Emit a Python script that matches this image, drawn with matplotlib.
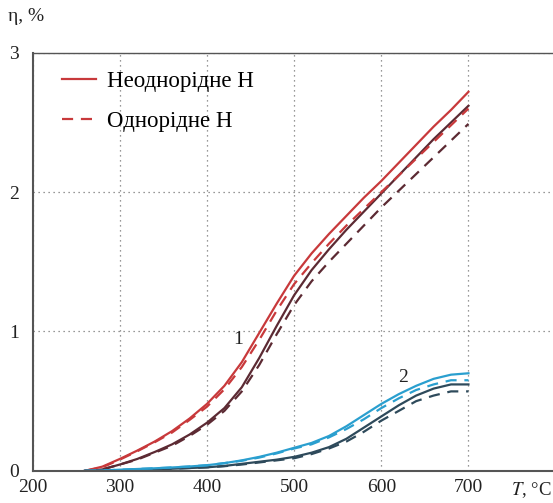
import matplotlib
matplotlib.use("Agg")
import matplotlib.pyplot as plt

plt.rcParams['font.family'] = ['Liberation Serif', 'DejaVu Serif']

# temperatures, deg C
T = [260, 280, 300, 320, 340, 360, 380, 400, 420, 440, 460, 480,
     500, 520, 540, 560, 580, 600, 620, 640, 660, 680, 700]

# group 1 (red)
red_solid = [0.0, 0.03, 0.085, 0.145, 0.21, 0.285, 0.375, 0.48, 0.61, 0.78, 0.99, 1.20,
             1.40, 1.56, 1.70, 1.83, 1.96, 2.08, 2.21, 2.34, 2.47, 2.59, 2.72]
red_dash = [0.0, 0.025, 0.08, 0.14, 0.205, 0.275, 0.365, 0.46, 0.585, 0.745, 0.94, 1.15,
            1.34, 1.49, 1.63, 1.76, 1.88, 2.00, 2.12, 2.24, 2.36, 2.48, 2.60]
maroon_solid = [0.0, 0.01, 0.045, 0.085, 0.135, 0.19, 0.26, 0.345, 0.45, 0.60, 0.81, 1.04,
                1.26, 1.44, 1.59, 1.73, 1.86, 1.99, 2.12, 2.25, 2.38, 2.50, 2.62]
maroon_dash = [0.0, 0.01, 0.045, 0.08, 0.13, 0.18, 0.25, 0.33, 0.43, 0.57, 0.76, 0.98,
               1.19, 1.36, 1.50, 1.63, 1.76, 1.89, 2.01, 2.13, 2.25, 2.37, 2.49]

# group 2 (blue)
cyan_solid = [0.0, 0.002, 0.008, 0.013, 0.018, 0.024, 0.031, 0.04, 0.055, 0.075, 0.10, 0.13,
              0.165, 0.20, 0.25, 0.32, 0.40, 0.48, 0.55, 0.61, 0.66, 0.69, 0.70]
cyan_dash = [0.0, 0.002, 0.008, 0.013, 0.018, 0.024, 0.031, 0.04, 0.055, 0.072, 0.095, 0.125,
             0.16, 0.19, 0.24, 0.30, 0.37, 0.45, 0.52, 0.58, 0.62, 0.65, 0.65]
slate_solid = [0.0, 0.0, 0.003, 0.006, 0.01, 0.015, 0.02, 0.025, 0.035, 0.05, 0.065, 0.08,
               0.10, 0.13, 0.17, 0.23, 0.31, 0.39, 0.47, 0.54, 0.59, 0.62, 0.62]
slate_dash = [0.0, 0.0, 0.003, 0.006, 0.01, 0.015, 0.02, 0.025, 0.033, 0.045, 0.06, 0.075,
              0.09, 0.12, 0.16, 0.21, 0.28, 0.36, 0.43, 0.50, 0.54, 0.57, 0.57]

x_ticks = [200, 300, 400, 500, 600, 700]
y_ticks = [0, 1, 2, 3]

RED = '#c8393b'
MAROON = '#5c2a33'
CYAN = '#2a9fcf'
SLATE = '#2e4a5b'
TXT = '#222222'

fig = plt.figure(figsize=(5.53, 5.03), dpi=100)
ax = fig.add_axes([0.059, 0.064, 0.941, 0.831])

lw = 1.6
dash = (0, (5, 3.5))
ax.plot(T, maroon_solid, color=MAROON, lw=lw)
ax.plot(T, maroon_dash, color=MAROON, lw=lw, linestyle=dash)
ax.plot(T, red_solid, color=RED, lw=lw, label='Неоднорідне Н')
ax.plot(T, red_dash, color=RED, lw=lw, linestyle=dash, label='Однорідне Н')
ax.plot(T, slate_solid, color=SLATE, lw=lw)
ax.plot(T, slate_dash, color=SLATE, lw=lw, linestyle=dash)
ax.plot(T, cyan_solid, color=CYAN, lw=lw)
ax.plot(T, cyan_dash, color=CYAN, lw=lw, linestyle=dash)

ax.set_xlim(200, 797)
ax.set_ylim(0, 3)
ax.set_xticks(x_ticks)
ax.set_yticks(y_ticks)
ax.tick_params(length=0, labelsize=14, colors=TXT)
ax.tick_params(axis='x', pad=6)
ax.tick_params(axis='y', pad=10)

ax.grid(True, linestyle=(0, (1, 3)), color='#777777', lw=0.9)
for s in ['left', 'bottom', 'top']:
    ax.spines[s].set_color('#555555')
    ax.spines[s].set_linewidth(1.5)
ax.spines['top'].set_linewidth(1.0)
ax.spines['right'].set_visible(False)

ax.text(436, 0.94, '1', fontsize=14, ha='center', va='center', color=TXT)
ax.text(625, 0.67, '2', fontsize=14, ha='center', va='center', color=TXT)

fig.text(0.014, 0.968, 'η, %', fontsize=14, ha='left', va='center', color=TXT)
fig.text(0.997, 0.026, '$T$, °C', fontsize=13.5, ha='right', va='center', color=TXT,
         math_fontfamily='stix')

leg = ax.legend(loc='upper left', frameon=False, fontsize=16.5, handlelength=1.45,
                handletextpad=0.5, labelspacing=0.85, borderpad=0,
                bbox_to_anchor=(0.035, 0.985))

fig.savefig('out.png', dpi=100)
